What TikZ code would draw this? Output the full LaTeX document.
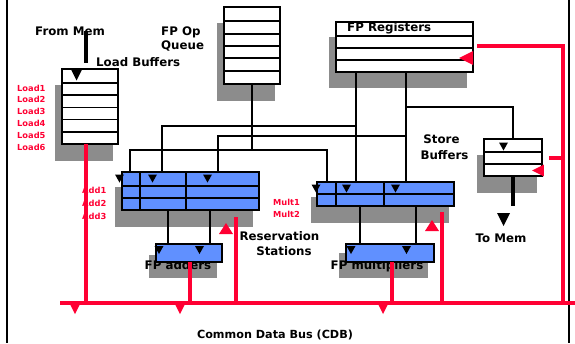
\documentclass[tikz,border=0pt]{standalone}
\usepackage{fontspec}
\setmainfont{DejaVu Sans}
\usetikzlibrary{calc}
\definecolor{cdbred}{RGB}{255,0,51}
\definecolor{rsblue}{RGB}{96,144,255}
\definecolor{shadegray}{RGB}{140,140,140}
\begin{document}
\begin{tikzpicture}[x=1pt,y=-1pt,
  buf/.style={draw=black,line width=1.6pt,fill=white,inner sep=0pt,outer sep=0pt,anchor=north west},
  rsbox/.style={buf,fill=rsblue},
  wire/.style={draw=black,line width=1.6pt},
  thickwire/.style={draw=black,line width=3.4pt},
  redwire/.style={draw=cdbred,line width=3.6pt},
  frameline/.style={draw=black,line width=2pt},
  lab/.style={font=\bfseries\fontsize{11.8}{13}\selectfont,inner sep=0pt},
  cdblab/.style={font=\bfseries\fontsize{11.2}{13}\selectfont,inner sep=0pt},
  redlab/.style={font=\bfseries\fontsize{8.3}{10}\selectfont,text=cdbred,inner sep=0pt,anchor=base west},
  dtri/.pic={\fill[black] (-4.5,0)--(4.5,0)--(0,8)--cycle;},
  bigdtri/.pic={\fill[black] (-5.5,0)--(5.5,0)--(0,11)--cycle;},
  memtri/.pic={\fill[black] (-6.5,0)--(6.5,0)--(0,13)--cycle;},
  redup/.pic={\fill[cdbred] (-7,0)--(7,0)--(0,-11)--cycle;},
  redleft/.pic={\fill[cdbred] (0,0)--(14,-7)--(14,7)--cycle;},
  busdown/.pic={\fill[cdbred] (-5.5,0)--(5.5,0)--(0,11)--cycle;}
]
\useasboundingbox (0,0) rectangle (575,343);
\fill[white] (0,0) rectangle (575,343);

% frame
\draw[frameline] (7,0) -- (7,343);
\draw[frameline] (569,0) -- (569,343);

% shadows
\fill[shadegray] (55,85) rectangle (113,161);
\fill[shadegray] (217,23) rectangle (275,101);
\fill[shadegray] (329,37) rectangle (467,88);
\fill[shadegray] (477,155) rectangle (537,193);
\fill[shadegray] (115,187) rectangle (253,227);
\fill[shadegray] (311,197) rectangle (449,223);
\fill[shadegray] (149,255) rectangle (217,278);
\fill[shadegray] (339,253) rectangle (428,278);

% texts hidden partly behind functional units
\node[lab,anchor=base] (fpatxt) at (178,269) {FP adders};
\node[lab,anchor=base] (fpmtxt) at (377,269) {FP multipliers};

% boxes
\node[buf,minimum width=56pt,minimum height=75pt] (lb) at (62,69) {};
\node[buf,minimum width=56pt,minimum height=77pt] (queue) at (224,7) {};
\node[buf,minimum width=137pt,minimum height=50pt] (reg) at (336,22) {};
\node[buf,minimum width=58pt,minimum height=37pt] (sb) at (484,139) {};
\node[rsbox,minimum width=137pt,minimum height=38pt] (ars) at (122,172) {};
\node[rsbox,minimum width=137pt,minimum height=24pt] (mrs) at (317,182) {};
\node[rsbox,minimum width=66pt,minimum height=18pt] (fpa) at (156,244) {};
\node[rsbox,minimum width=88pt,minimum height=18pt] (fpm) at (346,244) {};

% internal rows / columns
\foreach \yy in {83,95.2,107.4,119.6,131.8} \draw[wire] (62,\yy) -- (118,\yy);
\foreach \yy in {21,34,46,58,71} \draw[wire] (224,\yy) -- (280,\yy);
\foreach \yy in {36,48,60} \draw[wire] (336,\yy) -- (473,\yy);
\foreach \yy in {152,164} \draw[wire] (484,\yy) -- (542,\yy);
\foreach \yy in {186,198} \draw[wire] (122,\yy) -- (259,\yy);
\foreach \xx in {140,186} \draw[wire] (\xx,172) -- (\xx,210);
\draw[wire] (317,194) -- (454,194);
\foreach \xx in {336,384} \draw[wire] (\xx,182) -- (\xx,206);

% labels
\node[lab,anchor=base west] (frommem) at (35,35) {From Mem};
\node[lab,anchor=base west] (lbtxt) at (96,66) {Load Buffers};
\node[lab,anchor=base west] (fpop) at (161,35) {FP Op};
\node[lab,anchor=base west] (queuetxt) at (161,49.5) {Queue};
\node[lab,anchor=base west] (regtxt) at (347,31) {FP Registers};
\draw[wire] (reg.north west) -- (reg.north east);
\node[lab,anchor=base] (storetxt) at (441.5,143) {Store};
\node[lab,anchor=base] (sbtxt) at (444.5,159) {Buffers};
\node[lab,anchor=base] (tomem) at (501,242) {To Mem};
\node[lab,anchor=base] (restxt) at (279.5,240) {Reservation};
\node[lab,anchor=base] (sttxt) at (284,255) {Stations};
\node[cdblab,anchor=base] (cdbtxt) at (275,338) {Common Data Bus (CDB)};

\node[redlab] (l1) at (17,91) {Load1};
\node[redlab] (l2) at (17,102.8) {Load2};
\node[redlab] (l3) at (17,114.6) {Load3};
\node[redlab] (l4) at (17,126.4) {Load4};
\node[redlab] (l5) at (17,138.2) {Load5};
\node[redlab] (l6) at (17,150) {Load6};
\node[redlab] (a1) at (82,193) {Add1};
\node[redlab] (a2) at (82,206) {Add2};
\node[redlab] (a3) at (82,219) {Add3};
\node[redlab] (m1) at (273,205) {Mult1};
\node[redlab] (m2) at (273,217) {Mult2};

% black connectors
\coordinate (qj) at (252,150);
\coordinate (aop) at (130,172);
\coordinate (mop) at (327,182);
\coordinate (aj) at (162,172);
\coordinate (ak) at (218,172);
\coordinate (mj) at (356,182);
\coordinate (mk) at (406,182);
\coordinate (r1) at (356,126);
\coordinate (r2) at (406,136);
\coordinate (r3) at (406,107);
\coordinate (fa1) at (168,244);
\coordinate (fa2) at (210,244);
\coordinate (fm1) at (360,244);
\coordinate (fm2) at (416,244);
\coordinate (memin) at (86,31);
\coordinate (lbin) at (86,63);
\coordinate (sbout) at (513,206);

\draw[wire] (queue.south) -- (qj);
\draw[wire] (aop) -- (aop |- qj) -- (mop |- qj) -- (mop);
\draw[wire] (reg.south -| mj) -- (mj);
\draw[wire] (reg.south -| mk) -- (mk);
\draw[wire] (aj) |- (r1);
\draw[wire] (ak) |- (r2);
\draw[wire] (r3) -| (sb.north);
\draw[wire] (ars.south -| fa1) -- (fa1);
\draw[wire] (ars.south -| fa2) -- (fa2);
\draw[wire] (mrs.south -| fm1) -- (fm1);
\draw[wire] (mrs.south -| fm2) -- (fm2);
\draw[thickwire] (memin) -- (lbin);
\draw[thickwire] (sb.south) -- (sbout);

% red CDB
\coordinate (busl) at (60,303);
\coordinate (busr) at (575,303);
\coordinate (b1) at (86,303);
\coordinate (b2) at (190,303);
\coordinate (b3) at (236,303);
\coordinate (b4) at (392,303);
\coordinate (b5) at (442,303);
\coordinate (b6) at (563,303);
\coordinate (arsout) at (236,217);
\coordinate (mrsout) at (442,212);
\coordinate (rc) at (563,46);
\coordinate (regin) at (477,46);
\coordinate (sbin) at (549,158);

\draw[redwire] (busl) -- (busr);
\draw[redwire] (lb.south -| b1) -- (b1);
\draw[redwire] (fpa.south -| b2) -- (b2);
\draw[redwire] (arsout) -- (b3);
\draw[redwire] (fpm.south -| b4) -- (b4);
\draw[redwire] (mrsout) -- (b5);
\draw[redwire] (b6) -- (rc) -- (regin);
\draw[redwire] (b6 |- sbin) -- (sbin);

% triangles
\pic at (76.5,69.5) {bigdtri};
\pic at (503.5,142.5) {dtri};
\pic at (503.5,213) {memtri};
\pic at (119.5,174.5) {dtri};
\pic at (152.5,174.5) {dtri};
\pic at (207.5,174.5) {dtri};
\pic at (316,184.5) {dtri};
\pic at (346.5,184.5) {dtri};
\pic at (395.5,184.5) {dtri};
\pic at (159,246) {dtri};
\pic at (199.5,246) {dtri};
\pic at (351,246) {dtri};
\pic at (406.5,246) {dtri};
\pic at (226,234) {redup};
\pic at (432,231) {redup};
\pic at (459,58) {redleft};
\pic[scale=0.85] at (532,170.5) {redleft};
\pic at (75,303) {busdown};
\pic at (180,303) {busdown};
\pic at (383,303) {busdown};
\end{tikzpicture}
\end{document}
